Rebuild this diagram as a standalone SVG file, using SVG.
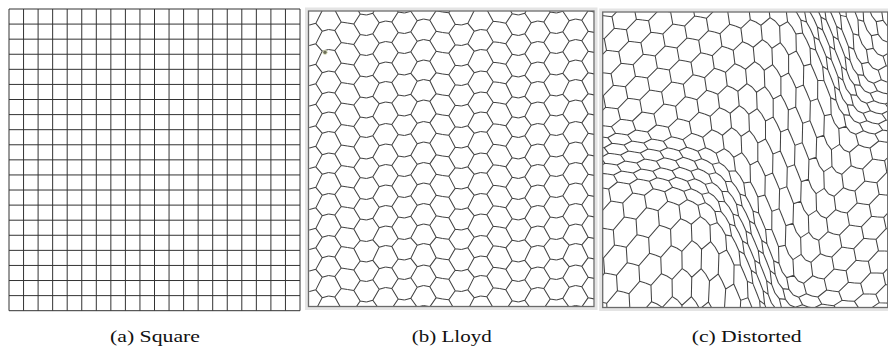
<svg xmlns="http://www.w3.org/2000/svg" width="888" height="346" viewBox="0 0 888 346">
<style>
.grid{fill:none;stroke:#333;stroke-width:1}
.frame{fill:none;stroke:#6a6a6a;stroke-width:1.3}
.halo{fill:none;stroke:#e4e4e4;stroke-width:3}
.mesh{fill:none;stroke:#444;stroke-width:1.05;vector-effect:non-scaling-stroke}
.cap{font-family:"Liberation Serif","Times New Roman",serif;font-size:17.5px;fill:#111;text-anchor:middle}
</style>
<defs>
<path id="stripB" class="mesh" d="M3.17,0.5 L-3.17,11 3.17,22 -3.17,31.5 3.17,42.5 -3.17,51.5 3.17,63 -3.17,73 3.17,82.5 -3.17,94 3.17,103 -3.17,114 3.17,124.5 -3.17,133.5 3.17,145 -3.17,155 3.17,165.5 -3.17,174.5 3.17,186 -3.17,195.5 3.17,206.5 -3.17,216 3.17,227 -3.17,237.5 3.17,246.5 -3.17,258 3.17,268 -3.17,277.5 3.17,288.5 -3.17,298 3.17,308.5 -3.17,319
M3.17,0.5h6.33M3.17,22h6.33M3.17,42.5h6.33M3.17,63h6.33M3.17,82.5h6.33M3.17,103h6.33M3.17,124.5h6.33M3.17,145h6.33M3.17,165.5h6.33M3.17,186h6.33M3.17,206.5h6.33M3.17,227h6.33M3.17,246.5h6.33M3.17,268h6.33M3.17,288.5h6.33M3.17,308.5h6.33
M-3.17,11h-6.33M-3.17,31.5h-6.33M-3.17,51.5h-6.33M-3.17,73h-6.33M-3.17,94h-6.33M-3.17,114h-6.33M-3.17,133.5h-6.33M-3.17,155h-6.33M-3.17,174.5h-6.33M-3.17,195.5h-6.33M-3.17,216h-6.33M-3.17,237.5h-6.33M-3.17,258h-6.33M-3.17,277.5h-6.33M-3.17,298h-6.33M-3.17,319h-6.33"/>
<path id="stripC" class="mesh" d="M3.17,-172 L-3.17,-165 3.17,-158 -3.17,-151 3.17,-144 -3.17,-137 3.17,-130 -3.17,-123 3.17,-116 -3.17,-109 3.17,-102 -3.17,-95 3.17,-88 -3.17,-82 3.17,-77 -3.17,-72 3.17,-67 -3.17,-62 3.17,-57 -3.17,-52 3.17,-47 -3.17,-42 3.17,-37 -3.17,-31 3.17,-23 -3.17,-13 3.17,-2 -3.17,9 3.17,20 -3.17,31 3.17,42 -3.17,53 3.17,64 -3.17,75 3.17,86 -3.17,97 3.17,108 -3.17,118 3.17,126 -3.17,132 3.17,137 -3.17,142 3.17,147 -3.17,152 3.17,157 -3.17,162 3.17,167 -3.17,172 3.17,178 -3.17,186 3.17,197 -3.17,210 3.17,224 -3.17,238 3.17,252 -3.17,266 3.17,280 -3.17,294 3.17,308 -3.17,322
M3.17,-172h6.33M3.17,-158h6.33M3.17,-144h6.33M3.17,-130h6.33M3.17,-116h6.33M3.17,-102h6.33M3.17,-88h6.33M3.17,-77h6.33M3.17,-67h6.33M3.17,-57h6.33M3.17,-47h6.33M3.17,-37h6.33M3.17,-23h6.33M3.17,-2h6.33M3.17,20h6.33M3.17,42h6.33M3.17,64h6.33M3.17,86h6.33M3.17,108h6.33M3.17,126h6.33M3.17,137h6.33M3.17,147h6.33M3.17,157h6.33M3.17,167h6.33M3.17,178h6.33M3.17,197h6.33M3.17,224h6.33M3.17,252h6.33M3.17,280h6.33M3.17,308h6.33
M-3.17,-165h-6.33M-3.17,-151h-6.33M-3.17,-137h-6.33M-3.17,-123h-6.33M-3.17,-109h-6.33M-3.17,-95h-6.33M-3.17,-82h-6.33M-3.17,-72h-6.33M-3.17,-62h-6.33M-3.17,-52h-6.33M-3.17,-42h-6.33M-3.17,-31h-6.33M-3.17,-13h-6.33M-3.17,9h-6.33M-3.17,31h-6.33M-3.17,53h-6.33M-3.17,75h-6.33M-3.17,97h-6.33M-3.17,118h-6.33M-3.17,132h-6.33M-3.17,142h-6.33M-3.17,152h-6.33M-3.17,162h-6.33M-3.17,172h-6.33M-3.17,186h-6.33M-3.17,210h-6.33M-3.17,238h-6.33M-3.17,266h-6.33M-3.17,294h-6.33M-3.17,322h-6.33"/>
<clipPath id="clipB"><rect x="308.5" y="11" width="285.5" height="295.5"/></clipPath>
<clipPath id="clipC"><rect x="602.7" y="12" width="285" height="295.5"/></clipPath>
</defs>
<rect width="888" height="346" fill="#fff"/>
<g id="panel-a">
<path class="grid" d="M9,9V310.7M23.55,9V310.7M38.1,9V310.7M52.65,9V310.7M67.2,9V310.7M81.75,9V310.7M96.3,9V310.7M110.85,9V310.7M125.4,9V310.7M139.95,9V310.7M154.5,9V310.7M169.05,9V310.7M183.6,9V310.7M198.15,9V310.7M212.7,9V310.7M227.25,9V310.7M241.8,9V310.7M256.35,9V310.7M270.9,9V310.7M285.45,9V310.7M300,9V310.7
M9,9H300M9,24.09H300M9,39.17H300M9,54.26H300M9,69.34H300M9,84.43H300M9,99.51H300M9,114.6H300M9,129.68H300M9,144.77H300M9,159.85H300M9,174.94H300M9,190.02H300M9,205.11H300M9,220.19H300M9,235.28H300M9,250.36H300M9,265.45H300M9,280.53H300M9,295.62H300M9,310.7H300"/>
</g>
<g id="panel-b">
<rect class="halo" x="306.5" y="9" width="289.5" height="299.5"/>
<g clip-path="url(#clipB)">
<use href="#stripB" transform="matrix(1,0.158,0,1,300,1.5)"/>
<use href="#stripB" transform="matrix(-1,0.263,0,1,319,0.5)"/>
<use href="#stripB" transform="matrix(1,0.158,0,1,338,-0.5)"/>
<use href="#stripB" transform="matrix(-1,-0.158,0,1,357,2.5)"/>
<use href="#stripB" transform="matrix(1,-0.263,0,1,376,1.5)"/>
<use href="#stripB" transform="matrix(-1,-0.158,0,1,395,0.5)"/>
<use href="#stripB" transform="matrix(1,-0.263,0,1,414,-0.5)"/>
<use href="#stripB" transform="matrix(-1,-0.211,0,1,433,-1)"/>
<use href="#stripB" transform="matrix(1,0.105,0,1,452,2)"/>
<use href="#stripB" transform="matrix(-1,0.263,0,1,471,0.5)"/>
<use href="#stripB" transform="matrix(1,0.105,0,1,490,-1)"/>
<use href="#stripB" transform="matrix(-1,-0.211,0,1,509,2)"/>
<use href="#stripB" transform="matrix(1,-0.263,0,1,528,1.5)"/>
<use href="#stripB" transform="matrix(-1,-0.158,0,1,547,0.5)"/>
<use href="#stripB" transform="matrix(1,-0.263,0,1,566,-0.5)"/>
<use href="#stripB" transform="matrix(-1,-0.211,0,1,585,-1)"/>
<use href="#stripB" transform="matrix(1,0.053,0,1,604,1.5)"/>
</g>
<rect class="frame" x="308.5" y="11" width="285.5" height="295.5"/>
<circle cx="325" cy="52.3" r="2.2" fill="#6e6f5a" stroke="#e6ecc8" stroke-width="0.8"/>
</g>
<g id="panel-c">
<rect class="halo" x="600.7" y="10" width="290" height="299.5"/>
<g clip-path="url(#clipC)">
<g transform="matrix(1,0,-0.35,1,56,0)">
<use href="#stripC" transform="matrix(1,0.105,0,1,546,-5)"/>
<use href="#stripC" transform="matrix(-1,-0.105,0,1,565,-3)"/>
<use href="#stripC" transform="matrix(1,0.105,0,1,584,-1)"/>
<use href="#stripC" transform="matrix(-1,-0.105,0,1,603,1)"/>
<use href="#stripC" transform="matrix(1,0.158,0,1,622,3.5)"/>
<use href="#stripC" transform="matrix(-1,-0.158,0,1,641,6.5)"/>
<use href="#stripC" transform="matrix(1,0.211,0,1,660,10)"/>
<use href="#stripC" transform="matrix(-1,-0.263,0,1,679,14.5)"/>
<use href="#stripC" transform="matrix(1,0.368,0,1,698,20.5)"/>
<use href="#stripC" transform="matrix(-1,-0.526,0,1,717,29)"/>
<use href="#stripC" transform="matrix(1,0.842,0,1,736,42)"/>
<use href="#stripC" transform="matrix(-1,-1.105,0,1,755,60.5)"/>
<use href="#stripC" transform="matrix(1,1.263,0,1,774,83)"/>
<use href="#stripC" transform="matrix(-1,-1.316,0,1,793,107.5)"/>
<use href="#stripC" transform="matrix(1,1.368,0,1,812,133)"/>
<use href="#stripC" transform="matrix(-1,-0.895,0,1,831,154.5)"/>
<use href="#stripC" transform="matrix(1,0.368,0,1,850,166.5)"/>
<use href="#stripC" transform="matrix(-1,-0.158,0,1,869,171.5)"/>
<use href="#stripC" transform="matrix(1,0.105,0,1,888,174)"/>
<use href="#stripC" transform="matrix(-1,-0.053,0,1,907,175.5)"/>
<use href="#stripC" transform="matrix(1,0.053,0,1,926,176.5)"/>
<use href="#stripC" transform="matrix(-1,-0.053,0,1,945,177.5)"/>
</g>
</g>
<rect class="frame" x="602.7" y="12" width="285" height="295.5"/>
</g>
<g id="captions">
<text class="cap" x="155" y="341.5" textLength="90" lengthAdjust="spacingAndGlyphs">(a) Square</text>
<text class="cap" x="451.7" y="341.5" textLength="80" lengthAdjust="spacingAndGlyphs">(b) Lloyd</text>
<text class="cap" x="746.7" y="341.5" textLength="110" lengthAdjust="spacingAndGlyphs">(c) Distorted</text>
</g>
</svg>
